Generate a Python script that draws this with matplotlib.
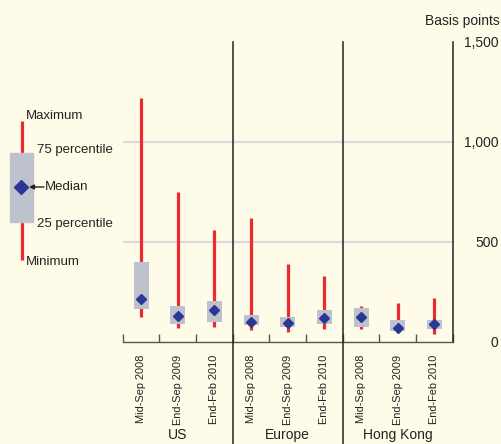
import matplotlib
matplotlib.use("Agg")
import matplotlib.pyplot as plt
from matplotlib.patches import Rectangle
import numpy as np

# ---- data (basis points) ----
groups = ["US", "Europe", "Hong Kong"]
periods = ["Mid-Sep 2008", "End-Sep 2009", "End-Feb 2010"]
maximum = [1220, 750, 560, 620, 390, 330, 180, 195, 220]
pct75 = [397, 177, 202, 132, 122, 157, 166, 107, 107]
median = [211, 127, 157, 97, 94, 119, 121, 69, 87]
pct25 = [164, 86, 96, 82, 74, 89, 74, 54, 64]
minimum = [121, 66, 74, 57, 46, 62, 61, 46, 36]
yticks = [0, 500, 1000, 1500]
ytick_labels = ["0", "500", "1,000", "1,500"]

BG = "#FFFBE9"
RED = "#EC2A30"
GRAY = "#BEC2CC"
BLUE = "#2B3795"
W, H = 502, 444

plt.rcParams['font.family'] = ['Liberation Sans', 'DejaVu Sans']
fig = plt.figure(figsize=(W / 100, H / 100), dpi=100, facecolor=BG)

def fx(px):
    return px / W

def fy(py):
    return 1 - py / H

left, right, top, bottom = 122.7, 452.7, 41.5, 341.5
ax = fig.add_axes([fx(left), fy(bottom), (right - left) / W, (bottom - top) / H])
ax.set_facecolor(BG)

n = len(maximum)
x = np.arange(n)
labels = periods * len(groups)

# gridlines
for v in yticks[1:-1]:
    ax.axhline(v, color="#D9DADD", lw=1.6, zorder=0)

ax.vlines(x, minimum, maximum, color=RED, lw=2.3, zorder=2)
ax.bar(x, np.array(pct75) - np.array(pct25), bottom=pct25, width=0.41,
       color=GRAY, zorder=3)
ax.plot(x, median, "D", color=BLUE, ms=5.5, zorder=4, ls="none")

ax.set_xlim(-0.5, n - 0.5)
ax.set_ylim(0, 1500)

# group separators, extending below the axis through labels
frac_below = (H - bottom) / (bottom - top)
for g in range(1, len(groups)):
    ax.axvline(g * 3 - 0.5, ymin=-frac_below, ymax=1, color="#222222", lw=1.1,
               clip_on=False, zorder=5)

for s in ["top", "left"]:
    ax.spines[s].set_visible(False)
ax.spines["right"].set_color("#222222")
ax.spines["right"].set_linewidth(1.1)
ax.spines["bottom"].set_color("#555555")
ax.spines["bottom"].set_linewidth(1.0)

ax.set_xticks(x)
ax.set_xticklabels(labels, rotation=90, va="top", ha="center", fontsize=7.9)
ax.tick_params(axis="x", which="major", length=0, pad=9.5, colors="#222222")
ax.set_xticks(np.arange(n + 1) - 0.5, minor=True)
ax.tick_params(axis="x", which="minor", direction="in", length=5.8,
               width=1.0, color="#555555")

ax.yaxis.tick_right()
ax.set_yticks(yticks)
ax.set_yticklabels(ytick_labels, fontsize=10)
for lbl in ax.get_yticklabels():
    lbl.set_horizontalalignment("right")
ax.tick_params(axis="y", length=0, pad=33, colors="#222222")

# group labels
for g, name in enumerate(groups):
    ax.text(g * 3 + 1, -0.313, name, transform=ax.get_xaxis_transform(),
            ha="center", va="center", fontsize=10, color="#222222")

fig.text(fx(500), fy(21), "Basis points", ha="right", va="center",
         fontsize=10, color="#222222")

# ---- legend (figure pixel coordinates) ----
lax = fig.add_axes([0, 0, 1, 1])
lax.set_xlim(0, W)
lax.set_ylim(H, 0)
lax.axis("off")
lax.plot([22, 22], [121, 260], color=RED, lw=2.3, solid_capstyle="butt")
lax.add_patch(Rectangle((10, 153), 23, 69, color=GRAY, zorder=3))
lax.plot([21.5], [187], "D", color=BLUE, ms=7.5, zorder=4)
lax.annotate("", xy=(29, 187), xytext=(44, 187),
             arrowprops=dict(arrowstyle="-|>", color="#222222", lw=1.0,
                             mutation_scale=7, shrinkA=0, shrinkB=0), zorder=5)
ltxt = dict(fontsize=9.5, color="#222222", va="center", ha="left")
lax.text(26, 116, "Maximum", **ltxt)
lax.text(37, 150, "75 percentile", **ltxt)
lax.text(45, 187, "Median", **ltxt)
lax.text(37, 224, "25 percentile", **ltxt)
lax.text(26, 262, "Minimum", **ltxt)

fig.savefig("out.png", dpi=100, facecolor=BG)
